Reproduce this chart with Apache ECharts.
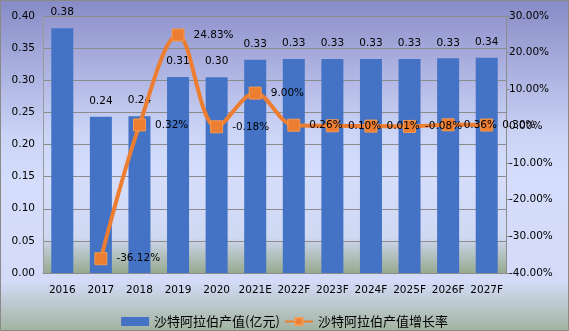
<!DOCTYPE html>
<html>
<head>
<meta charset="utf-8">
<script src="https://cdn.jsdelivr.net/npm/echarts@6/dist/echarts.min.js"></script>
<style>
  html, body { margin: 0; padding: 0; }
  #chart { width: 569px; height: 331px; }
</style>
</head>
<body>
<div id="chart"></div>
<script>
// Years (E = estimate, F = forecast)
const categories = ['2016', '2017', '2018', '2019', '2020', '2021E', '2022F', '2023F', '2024F', '2025F', '2026F', '2027F'];
// Output value, 100 million yuan
const outputValues = [0.381, 0.243, 0.244, 0.3052, 0.3047, 0.332, 0.3329, 0.3332, 0.3332, 0.3330, 0.3342, 0.3352];
// Year-on-year growth, percent (no figure for the first year)
const growthRates = [null, -36.12, 0.32, 24.83, -0.18, 9.00, 0.26, 0.10, 0.01, -0.08, 0.36, 0.30];

const barName = '沙特阿拉伯产值(亿元)';
const lineName = '沙特阿拉伯产值增长率';

const FONT = 'DejaVu Sans';
const CJK = 'Noto Sans CJK SC';

const chart = echarts.init(document.getElementById('chart'));

chart.setOption({
  animation: false,
  backgroundColor: new echarts.graphic.LinearGradient(0, 0, 0, 1, [
    { offset: 0, color: '#878bc6' },
    { offset: 0.42, color: '#cdd5f7' },
    { offset: 0.55, color: '#d5ddfc' },
    { offset: 0.85, color: '#d3dbf8' },
    { offset: 1, color: '#a2b39f' }
  ]),
  graphic: [{
    type: 'rect',
    shape: { x: 0.5, y: 0.5, width: 568, height: 330 },
    style: { fill: 'none', stroke: '#8a8a8a', lineWidth: 1 },
    silent: true
  }],
  grid: {
    left: 43, right: 63, top: 16, bottom: 58,
    show: true,
    borderWidth: 0,
    backgroundColor: new echarts.graphic.LinearGradient(0, 0, 0, 1, [
      { offset: 0, color: '#9296ce' },
      { offset: 0.45, color: '#ccd4f6' },
      { offset: 0.6, color: '#d5ddfc' },
      { offset: 0.86, color: '#d0d9f2' },
      { offset: 1, color: '#97a98f' }
    ])
  },
  legend: {
    left: 'center',
    top: 310,
    itemGap: 4,
    textStyle: { fontFamily: CJK, fontSize: 13, color: '#000' },
    data: [
      { name: barName, icon: 'rect', itemStyle: { color: '#4472c4' } },
      { name: lineName }
    ],
    itemWidth: 28,
    itemHeight: 9
  },
  xAxis: {
    type: 'category',
    data: categories,
    axisLine: { lineStyle: { color: '#8c8c8c', width: 1 } },
    axisTick: { show: false },
    axisLabel: { color: '#000', fontFamily: FONT, fontSize: 10.5, margin: 12, interval: 0 }
  },
  yAxis: [{
    type: 'value',
    min: 0, max: 0.4, interval: 0.05,
    axisLine: { show: true, lineStyle: { color: '#9a9a9a' } },
    axisTick: { show: false },
    splitLine: { lineStyle: { color: '#8c8c8c', width: 1 } },
    axisLabel: {
      color: '#000', fontFamily: FONT, fontSize: 10.5, margin: 8,
      formatter: v => v.toFixed(2)
    }
  }, {
    type: 'value',
    min: -40, max: 30, interval: 10,
    position: 'right',
    axisLine: { show: true, lineStyle: { color: '#8c8c8c' } },
    axisTick: { show: true, length: 4, lineStyle: { color: '#8c8c8c' } },
    splitLine: { show: false },
    axisLabel: {
      color: '#000', fontFamily: FONT, fontSize: 10.5, margin: 3,
      formatter: v => v.toFixed(2) + '%'
    }
  }],
  series: [{
    name: barName,
    type: 'bar',
    data: outputValues,
    barWidth: 22,
    itemStyle: { color: '#4472c4' },
    label: {
      show: true, position: 'top', distance: 10,
      color: '#000', fontFamily: FONT, fontSize: 10.5,
      formatter: p => p.value.toFixed(2)
    }
  }, {
    name: lineName,
    type: 'line',
    yAxisIndex: 1,
    data: growthRates,
    smooth: 0.35,
    connectNulls: false,
    symbol: 'rect',
    symbolSize: 12,
    lineStyle: { color: '#ed7d31', width: 4 },
    itemStyle: { color: '#ed7d31', borderColor: '#f39a52', borderWidth: 1 },
    label: {
      show: true, position: 'right', distance: 9,
      color: '#000', fontFamily: FONT, fontSize: 10.5,
      formatter: p => p.value.toFixed(2) + '%'
    },
    z: 3
  }]
});
</script>
</body>
</html>
